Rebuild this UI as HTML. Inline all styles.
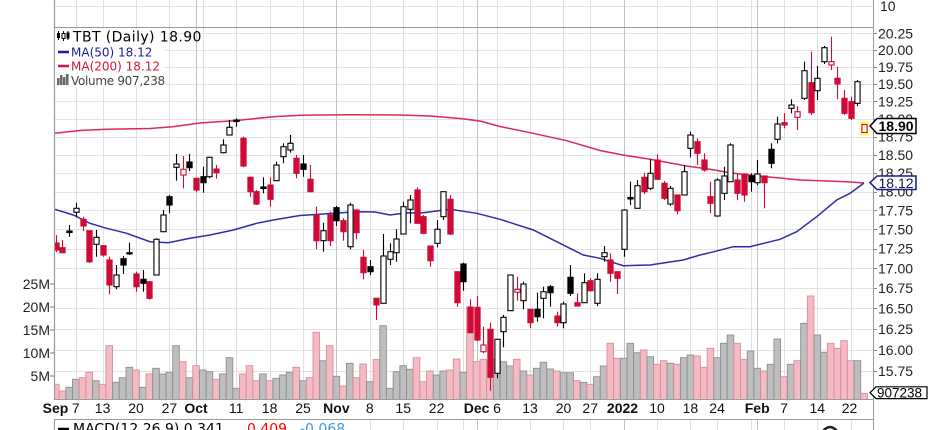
<!DOCTYPE html>
<html><head><meta charset="utf-8">
<style>
html,body{margin:0;padding:0;background:#fff;width:936px;height:430px;overflow:hidden;}
svg{display:block;}
.ax{font-family:"Liberation Sans",Arial,sans-serif;font-size:14px;fill:#222;}
.xb{font-family:"Liberation Sans",Arial,sans-serif;font-size:14px;font-weight:bold;fill:#111;}
.lg{font-family:"DejaVu Sans","Liberation Sans",sans-serif;}
</style></head><body>
<svg id="c" width="936" height="430" viewBox="0 0 936 430" xmlns="http://www.w3.org/2000/svg">
<defs><clipPath id="pc"><rect x="55" y="27" width="818" height="373"/></clipPath></defs>
<rect width="936" height="430" fill="#fff"/>
<g id="grid"></g>
<g id="vol" clip-path="url(#pc)"></g>
<g id="ma" clip-path="url(#pc)">
<polyline fill="none" stroke="#dc2a52" stroke-width="1.5" points="55,133.3 80,130.5 106.7,129.3 150,128.5 173,126.7 200,123 236.7,120.5 273,116.7 300,115.3 320,115 350,114.8 400,115 430,116 460,118.5 480,121 500,126.5 533,133.3 566.7,140.7 600,150.5 623,155 650,159.3 686.7,166 710,169.3 733,173.3 766.7,176.7 800,180 846.7,181.7 864,183"/>
<polyline fill="none" stroke="#2e2eaa" stroke-width="1.5" points="55,209.3 73.3,215 90,223.3 106.7,228.3 126.7,233.3 150,241.7 168.3,242.7 190,238.3 210,235 233.3,230 256.7,223.3 273.3,220 300,215.5 323.3,214 356.7,211.7 375,212 390,215 405,213 423.3,212.7 450,209.3 476.7,213.3 500,219.3 533.3,230 566.7,246.7 583.3,255 600,258.3 623.3,265.7 650,265 683.3,260 700,255 710,252.7 733.3,246.7 750,246.7 780,239.3 796.7,231.7 816.7,216.7 836.7,200 850,193.3 864,183"/>
</g>
<rect x="860.5" y="121.5" width="8" height="14" fill="#ffff55"/>
<g id="cdl" clip-path="url(#pc)"></g>

<!-- borders -->
<line x1="55" y1="27.5" x2="873" y2="27.5" stroke="#999" stroke-width="1"/>
<line x1="54.5" y1="0" x2="54.5" y2="400" stroke="#9a9a9a" stroke-width="1.2"/>
<line x1="54.5" y1="419" x2="54.5" y2="430" stroke="#9a9a9a" stroke-width="1.2"/>
<line x1="873.5" y1="0" x2="873.5" y2="430" stroke="#9a9a9a" stroke-width="1"/>
<line x1="54" y1="399.5" x2="874" y2="399.5" stroke="#9a9a9a" stroke-width="1"/>
<line x1="54" y1="419.5" x2="874" y2="419.5" stroke="#9a9a9a" stroke-width="1"/>

<!-- right axis labels -->
<g class="ax">
<text x="880" y="11">10</text>
<text x="878" y="38.3">20.25</text>
<text x="878" y="55">20.00</text>
<text x="878" y="71.9">19.75</text>
<text x="878" y="89">19.50</text>
<text x="878" y="106.3">19.25</text>
<text x="878" y="123.9">19.00</text>
<text x="878" y="141.7">18.75</text>
<text x="878" y="159.8">18.50</text>
<text x="878" y="178">18.25</text>
<text x="878" y="196.5">18.00</text>
<text x="878" y="215.3">17.75</text>
<text x="878" y="234.4">17.50</text>
<text x="878" y="253.7">17.25</text>
<text x="878" y="273.3">17.00</text>
<text x="878" y="293.2">16.75</text>
<text x="878" y="313.4">16.50</text>
<text x="878" y="333.9">16.25</text>
<text x="878" y="354.8">16.00</text>
<text x="878" y="376">15.75</text>
</g>
<!-- left volume labels -->
<g class="ax" text-anchor="end">
<text x="50" y="289">25M</text>
<text x="50" y="312">20M</text>
<text x="50" y="335">15M</text>
<text x="50" y="358">10M</text>
<text x="50" y="381">5M</text>
</g>
<g stroke="#777" stroke-width="1">
<line x1="50" y1="284" x2="54" y2="284"/><line x1="50" y1="307" x2="54" y2="307"/><line x1="50" y1="330" x2="54" y2="330"/><line x1="50" y1="353" x2="54" y2="353"/><line x1="50" y1="376" x2="54" y2="376"/>
</g>
<!-- x axis labels -->
<g class="ax" text-anchor="middle" style="fill:#111">
<text x="75.8" y="413">7</text>
<text x="102.6" y="413">13</text>
<text x="136" y="413">20</text>
<text x="169.4" y="413">27</text>
<text x="236.2" y="413">11</text>
<text x="269.6" y="413">18</text>
<text x="303" y="413">25</text>
<text x="369.8" y="413">8</text>
<text x="403.2" y="413">15</text>
<text x="436.6" y="413">22</text>
<text x="497" y="413">6</text>
<text x="530" y="413">13</text>
<text x="563.5" y="413">20</text>
<text x="590.2" y="413">27</text>
<text x="657" y="413">10</text>
<text x="690.4" y="413">18</text>
<text x="717.1" y="413">24</text>
<text x="784" y="413">7</text>
<text x="817.3" y="413">14</text>
<text x="849.5" y="413">22</text>
</g>
<g class="xb" text-anchor="middle">
<text x="55.5" y="413">Sep</text>
<text x="196" y="413">Oct</text>
<text x="336.4" y="413">Nov</text>
<text x="476.6" y="413">Dec</text>
<text x="622.5" y="413">2022</text>
<text x="757.2" y="413">Feb</text>
</g>

<!-- tags -->
<polygon points="870,126 877,118.5 916,118.5 916,133.5 877,133.5" fill="#fff" stroke="#000" stroke-width="1.5"/>
<text x="878.5" y="131.2" class="ax" style="font-weight:bold;fill:#000">18.90</text>
<polygon points="870,182.7 877,176 916,176 916,189.5 877,189.5" fill="#fff" stroke="#1a1a8c" stroke-width="1.5"/>
<text x="878.5" y="188" class="ax" style="fill:#141450">18.12</text>
<polygon points="870,392.7 876,386.8 927,386.8 927,398.6 876,398.6" fill="#fff" stroke="#000" stroke-width="1.2"/>
<text x="877" y="397.6" class="ax" style="font-size:13.5px;fill:#000">907238</text>

<!-- legend -->
<rect x="55" y="29" width="110" height="58" fill="#fff"/>
<g>
<line x1="58.5" y1="31" x2="58.5" y2="40" stroke="#000"/><rect x="57" y="33" width="3" height="5" fill="#000"/>
<line x1="63.5" y1="31" x2="63.5" y2="41" stroke="#000"/><rect x="62" y="33.5" width="3" height="5" fill="#fff" stroke="#000"/>
<line x1="68" y1="31" x2="68" y2="40" stroke="#000"/><rect x="66.5" y="32.5" width="3" height="6" fill="#000"/>
</g>
<text x="73" y="41.7" class="lg" style="font-size:14px;letter-spacing:0.4px;fill:#000">TBT (Daily) 18.90</text>
<line x1="58" y1="52" x2="69" y2="52" stroke="#1c1c9c" stroke-width="2.5"/>
<text x="71" y="56.5" class="lg" style="font-size:12px;fill:#1c1c9c">MA(50) 18.12</text>
<line x1="58" y1="66" x2="69" y2="66" stroke="#d8143c" stroke-width="2.5"/>
<text x="71" y="70.5" class="lg" style="font-size:12px;fill:#d8143c">MA(200) 18.12</text>
<g fill="#666"><rect x="57" y="78" width="2.5" height="7"/><rect x="60" y="75" width="2.5" height="10"/><rect x="63" y="77" width="2.5" height="8"/><rect x="66" y="74" width="2.5" height="11"/></g>
<text x="71" y="85" class="lg" style="font-size:12px;fill:#444;letter-spacing:-0.3px">Volume 907,238</text>

<!-- MACD legend -->
<rect x="55" y="420" width="300" height="10" fill="#fff"/>
<line x1="58" y1="429" x2="69" y2="429" stroke="#000" stroke-width="2.5"/>
<text x="73" y="433.5" class="lg" style="font-size:14px;fill:#000">MACD(12,26,9) 0.341,</text>
<text x="247" y="433.5" class="lg" style="font-size:14px;fill:#ff0000">0.409,</text>
<text x="300" y="433.5" class="lg" style="font-size:14px;fill:#3d9ad6">-0.068</text>
<path d="M823,431 Q830,423 837,431" fill="none" stroke="#222" stroke-width="2.5"/>
</svg>
<script>
(function(){
var S='http://www.w3.org/2000/svg';
function el(p,t,a){var e=document.createElementNS(S,t);for(var k in a)e.setAttribute(k,a[k]);p.appendChild(e);return e;}
var X0=55.8,DX=6.68;function cx(i){return X0+DX*i;}
var grid=document.getElementById('grid');
var py=[6,33.3,50,66.9,84,101.3,118.9,136.7,154.8,173,191.5,210.3,229.4,248.7,268.3,288.2,308.4,328.9,349.8,371];
py.forEach(function(y){var yy=Math.round(y)+0.5;el(grid,'line',{x1:55,x2:873,y1:yy,y2:yy,stroke:'#e3e3e3','stroke-width':1});
 if(y>20)el(grid,'line',{x1:873,x2:877,y1:yy,y2:yy,stroke:'#888','stroke-width':1});});
var wk=[3,7,12,17,22,27,32,37,47,52,57,61,66,71,76,80,90,95,99,104,109,114,119];
var mo=[21,42,63,85,105];
wk.forEach(function(i){var x=Math.round(cx(i))+0.5;el(grid,'line',{x1:x,x2:x,y1:0,y2:400,stroke:'#e0e0e0'});el(grid,'line',{x1:x,x2:x,y1:420,y2:430,stroke:'#e0e0e0'});});
mo.forEach(function(i){var x=Math.round(cx(i))+0.5;el(grid,'line',{x1:x,x2:x,y1:0,y2:400,stroke:'#c2c2c2'});el(grid,'line',{x1:x,x2:x,y1:420,y2:430,stroke:'#c2c2c2'});});
var C=[
['R',243,250,235,252],['R',247.7,252.7,240,253.3],['F',231,232.5,225,236.7],['H',208.3,212.3,202.7,216.7],['R',219.3,226,216.7,231],
['R',230.7,261.7,230.7,263],['H',237.3,244.3,230,256.7],['R',245.7,255,245,256.7],['R',260,285,256.7,294.3],['H',275,286.7,265,289.3],
['F',258.7,265,256,274],['F',252.7,253.9,242.7,255],['R',274,286.7,271.7,291.7],['F',279.3,283.3,270,291.7],['R',281.7,298.3,281.7,299.5],
['H',239.3,275,238.3,275],['H',215,231.7,210,231.7],['F',196.7,205,195,213.3],['H',164,167.3,154,180.7],['HR',169.3,175,156,188.3],
['F',162,167.7,154,171],['R',178.3,190,178.3,191.7],['F',176.7,182.7,166.7,192.7],['H',157.3,176.7,156.7,178.3],['R',169,172.7,165,178.7],
['H',145,152.7,139.3,153.3],['H',127.3,135,120,135],['F',120,121.5,118.3,126.7],['R',138.3,166,136.7,167.3],['R',177.3,191.7,176.7,196.7],
['R',191.7,204,190,205],['F',187,188.5,177.3,193.3],['R',185,199.3,177.3,206.7],['H',165,180.7,161.7,181],['H',146.7,156.7,143.3,163.3],
['H',143.3,150,135,152.7],['R',158.3,173.3,155,178.3],['F',164,169.3,155,176.7],['R',179.3,191.7,165,191.7],['R',215,240.7,206.7,249.3],
['H',230.7,240.7,222.7,251.7],['R',215,240.7,211.7,246],['F',207.7,220.7,206,226],['R',220.7,231.7,218.3,240.7],['H',205,246.7,202.7,249.3],
['R',210,232.7,209.3,239.3],['R',257.3,272.7,250,279.3],['F',266.7,271.7,260,275],['R',298.3,305,298,320],['H',256,303.3,234,303.3],
['H',251.7,259.3,243.3,265],['H',239,252.7,229.3,261.7],['H',206.7,234,201.7,234],['H',200,209.3,195,223.3],['R',190,223.3,187.3,223.3],
['R',216.7,233.3,215,234],['R',246,260.7,246,266.7],['H',229.3,243.3,220,247.3],['H',191.7,216.7,191.7,220],['R',199.3,234,195,235],
['R',271.7,302.7,271.7,306.7],['F',264,281.7,262.7,290.7],['R',307.3,332.7,299.3,333],['R',307.3,340,296,341.3],['HR',345,351.7,326.7,353.3],
['R',329.3,377.3,322.7,390.7],['H',339.3,373.3,339,378.3],['H',317.3,331.7,315,347.3],['H',275,310.7,275,310.7],['HR',289.3,292.3,276.7,300.7],
['H',284,300.7,281.7,309.3],['R',309.3,322.7,309.3,328.3],['F',309.3,316.7,292.7,321.7],['H',291.7,298.3,286.7,318.3],['F',286.7,292.7,285,306.7],
['R',316,322.7,311.7,326.7],['H',304,322.7,301.7,328.3],['F',277.3,293.3,265,296],['R',302.7,306,293.3,306],['H',282.7,302.7,273.3,302.7],
['R',280.7,290.7,278.3,291.7],['H',279.3,303.3,273.3,306],['H',252.7,256.7,246,261.7],['R',260,273.3,253.3,281.7],['R',271.7,278.3,271.7,294],
['H',210,249.3,209.3,256.7],['F',197.5,199,181.7,205],['H',185.7,208.3,180,208.3],['R',177.3,191.7,172.7,194],['H',173.3,188.3,159.3,190],
['R',160,179.3,154.3,179.3],['R',183.3,198.3,181,200],['H',188.3,204,186,206],['R',195,210.7,195,214.3],['H',171.7,195,165,195],
['H',135,148.3,131.7,157.3],['R',141.7,153.3,138.3,165],['R',160,170,153.3,171.7],['R',196.7,203.3,181.7,213.3],['H',180,216,178.3,216.7],
['H',176,193.3,166.7,200],['H',145,181.7,143.3,181.7],['R',180,193.3,174,200],['R',174,195,173.3,201.7],['F',176,181.7,173.3,191.7],
['H',174,182.7,160,185],['R',176,182.7,176,208.3],['F',149.3,163.3,143.3,168.3],['H',124,139.3,116.7,143.3],['R',122.7,125,113.3,128.3],
['H',105,108.3,99.3,113.3],['HR',111.7,117.3,106,130],['H',70.7,98.3,61.7,100],['R',82.7,112.7,51.7,115],['H',78.3,90.7,66,100],
['H',47.7,61.7,46,64],['HR',61.7,65,36.7,70],['R',78.3,84,66.7,99.3],['R',98.3,113.3,90,115],['R',101.7,118.3,96.7,120],
['H',81.7,103.3,80,106],['HR',124.5,132.5,124.5,132.5]
];
var V=[384.3,391,387.3,379.3,377.7,372.3,380.7,384.3,345.7,382.3,
377.7,367.3,370,387.3,374,368.3,374,372.3,345.7,361.7,
377.7,365.7,370,371.7,379.3,374,357.7,388.3,374,365.7,
380.7,374,380.7,378.3,375,372.3,367.3,380.7,377.7,332.3,
360.7,345.7,376.3,386,363.3,377.7,364,381.7,359.3,325.7,
388.3,371.7,365.7,369.3,357.7,381.7,371,375,371,370,
359,372.3,306.7,361.7,359.3,361,359.3,361.7,366,359.3,
371,375,368.3,362.3,369,371,372.7,372.7,380.7,382.3,
384.3,376.7,366,343.3,358.3,358.3,343.3,352.7,350,356.7,
364.3,360.7,363.3,364.3,357.7,355,356,367.3,348.3,357.7,
343.3,335,343.3,359.3,351,368.3,371,364.3,339,376.7,
364.3,360.7,323.3,296,335,352.3,343.3,348.3,340.7,360.7,
360.7,393.3];
var vol=document.getElementById('vol'),cd=document.getElementById('cdl');
var RED='#cf0a37';
for(var i=0;i<C.length;i++){
 var t=C[i][0],x=cx(i),red=(t=='R'||t=='HR');
 var top=V[i];
 el(vol,'rect',{x:(x-3.3).toFixed(2),y:top,width:6.6,height:(399.5-top).toFixed(2),fill:red?'#f3bcc5':'#bebebe',stroke:red?'#dc8c9a':'#8f8f8f','stroke-width':0.9});
}
for(var i=0;i<C.length;i++){
 var d=C[i],t=d[0],x=Math.round(cx(i))+0.5,red=(t=='R'||t=='HR');
 var col=red?RED:'#000';
 el(cd,'line',{x1:x,x2:x,y1:d[3],y2:d[4],stroke:col,'stroke-width':1.1});
 var h=Math.max(d[2]-d[1],1.2);
 var fill=(t=='H'||t=='HR')?'#fff':(t=='R'?RED:'#000');
 el(cd,'rect',{x:x-2.6,y:d[1],width:5.2,height:h,fill:fill,stroke:col,'stroke-width':1.1});
}
})();
</script>
</body></html>
